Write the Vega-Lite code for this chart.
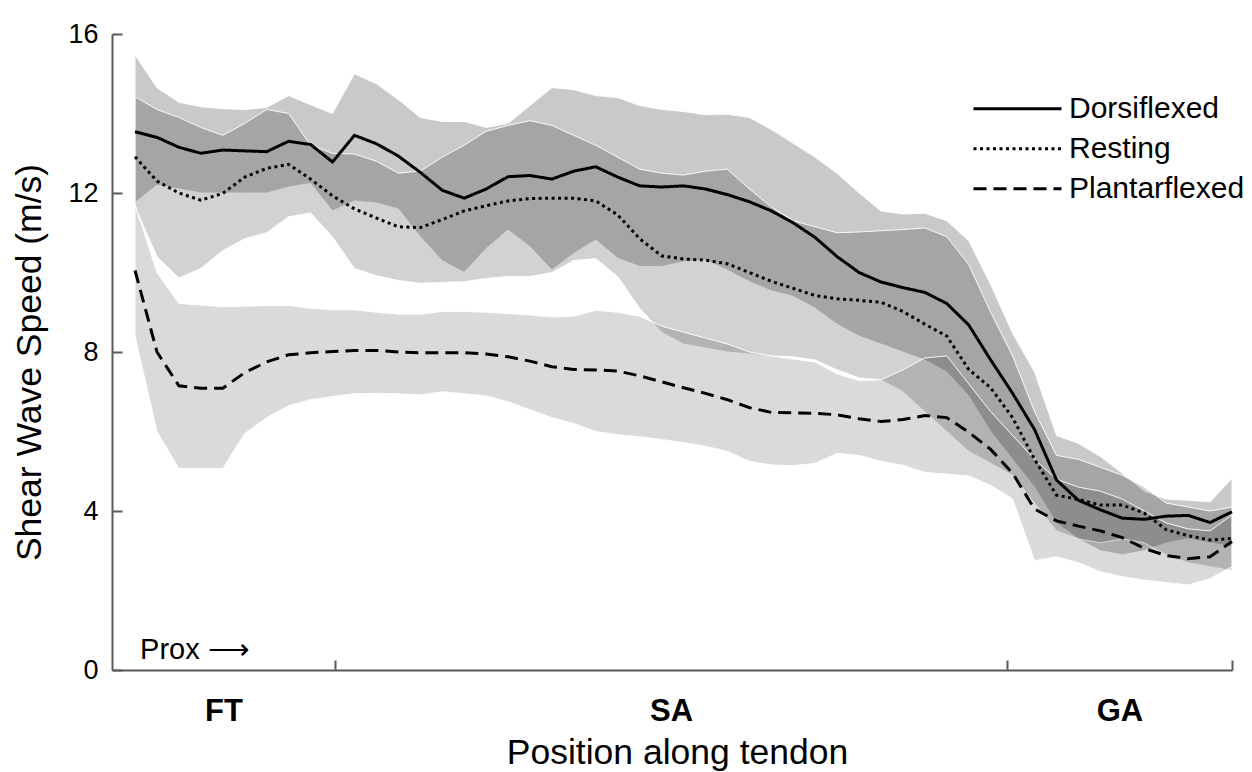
{
  "$schema": "https://vega.github.io/schema/vega-lite/v6.json",
  "width": 1120,
  "height": 636,
  "autosize": {"type": "none"},
  "padding": {"left": 112, "top": 34, "right": 20, "bottom": 102},
  "background": "white",
  "config": {
    "view": {"stroke": null},
    "font": "Liberation Sans",
    "axis": {"grid": false}
  },
  "datasets": {
    "speed": [
      {"pos": 0, "cond": "Dorsiflexed", "mean": 13.54, "lo": 11.76, "hi": 15.47},
      {"pos": 1, "cond": "Dorsiflexed", "mean": 13.4, "lo": 12.2, "hi": 14.65},
      {"pos": 2, "cond": "Dorsiflexed", "mean": 13.15, "lo": 12.1, "hi": 14.28},
      {"pos": 3, "cond": "Dorsiflexed", "mean": 13.0, "lo": 12.0, "hi": 14.17},
      {"pos": 4, "cond": "Dorsiflexed", "mean": 13.08, "lo": 12.0, "hi": 14.12},
      {"pos": 5, "cond": "Dorsiflexed", "mean": 13.06, "lo": 12.0, "hi": 14.1},
      {"pos": 6, "cond": "Dorsiflexed", "mean": 13.04, "lo": 12.0, "hi": 14.15},
      {"pos": 7, "cond": "Dorsiflexed", "mean": 13.3, "lo": 12.15, "hi": 14.45},
      {"pos": 8, "cond": "Dorsiflexed", "mean": 13.22, "lo": 12.24, "hi": 14.22},
      {"pos": 9, "cond": "Dorsiflexed", "mean": 12.78, "lo": 11.55, "hi": 14.0},
      {"pos": 10, "cond": "Dorsiflexed", "mean": 13.45, "lo": 11.8, "hi": 15.0},
      {"pos": 11, "cond": "Dorsiflexed", "mean": 13.24, "lo": 11.75, "hi": 14.75},
      {"pos": 12, "cond": "Dorsiflexed", "mean": 12.93, "lo": 11.6, "hi": 14.35},
      {"pos": 13, "cond": "Dorsiflexed", "mean": 12.52, "lo": 10.9, "hi": 13.9},
      {"pos": 14, "cond": "Dorsiflexed", "mean": 12.07, "lo": 10.3, "hi": 13.8},
      {"pos": 15, "cond": "Dorsiflexed", "mean": 11.87, "lo": 10.0, "hi": 13.8},
      {"pos": 16, "cond": "Dorsiflexed", "mean": 12.1, "lo": 10.6, "hi": 13.65},
      {"pos": 17, "cond": "Dorsiflexed", "mean": 12.41, "lo": 11.07, "hi": 13.75},
      {"pos": 18, "cond": "Dorsiflexed", "mean": 12.44, "lo": 10.65, "hi": 14.2},
      {"pos": 19, "cond": "Dorsiflexed", "mean": 12.35, "lo": 10.06, "hi": 14.65},
      {"pos": 20, "cond": "Dorsiflexed", "mean": 12.55, "lo": 10.48, "hi": 14.6},
      {"pos": 21, "cond": "Dorsiflexed", "mean": 12.66, "lo": 10.82, "hi": 14.45},
      {"pos": 22, "cond": "Dorsiflexed", "mean": 12.4, "lo": 10.36, "hi": 14.4},
      {"pos": 23, "cond": "Dorsiflexed", "mean": 12.18, "lo": 10.15, "hi": 14.2},
      {"pos": 24, "cond": "Dorsiflexed", "mean": 12.15, "lo": 10.15, "hi": 14.1},
      {"pos": 25, "cond": "Dorsiflexed", "mean": 12.18, "lo": 10.27, "hi": 14.05},
      {"pos": 26, "cond": "Dorsiflexed", "mean": 12.1, "lo": 10.31, "hi": 13.97},
      {"pos": 27, "cond": "Dorsiflexed", "mean": 11.96, "lo": 10.06, "hi": 13.98},
      {"pos": 28, "cond": "Dorsiflexed", "mean": 11.78, "lo": 9.77, "hi": 13.9},
      {"pos": 29, "cond": "Dorsiflexed", "mean": 11.55, "lo": 9.54, "hi": 13.6},
      {"pos": 30, "cond": "Dorsiflexed", "mean": 11.25, "lo": 9.4, "hi": 13.25},
      {"pos": 31, "cond": "Dorsiflexed", "mean": 10.88, "lo": 9.1, "hi": 12.9},
      {"pos": 32, "cond": "Dorsiflexed", "mean": 10.4, "lo": 8.7, "hi": 12.5},
      {"pos": 33, "cond": "Dorsiflexed", "mean": 10.0, "lo": 8.4, "hi": 12.0},
      {"pos": 34, "cond": "Dorsiflexed", "mean": 9.76, "lo": 8.2, "hi": 11.55},
      {"pos": 35, "cond": "Dorsiflexed", "mean": 9.62, "lo": 8.0, "hi": 11.47},
      {"pos": 36, "cond": "Dorsiflexed", "mean": 9.5, "lo": 7.8, "hi": 11.49},
      {"pos": 37, "cond": "Dorsiflexed", "mean": 9.22, "lo": 7.5, "hi": 11.3},
      {"pos": 38, "cond": "Dorsiflexed", "mean": 8.68, "lo": 6.9, "hi": 10.8},
      {"pos": 39, "cond": "Dorsiflexed", "mean": 7.8, "lo": 6.0, "hi": 9.7},
      {"pos": 40, "cond": "Dorsiflexed", "mean": 6.96, "lo": 5.3, "hi": 8.47},
      {"pos": 41, "cond": "Dorsiflexed", "mean": 6.05, "lo": 4.6, "hi": 7.5},
      {"pos": 42, "cond": "Dorsiflexed", "mean": 4.78, "lo": 3.7, "hi": 5.9},
      {"pos": 43, "cond": "Dorsiflexed", "mean": 4.27, "lo": 3.3, "hi": 5.7},
      {"pos": 44, "cond": "Dorsiflexed", "mean": 4.03, "lo": 3.0, "hi": 5.37},
      {"pos": 45, "cond": "Dorsiflexed", "mean": 3.82, "lo": 2.9, "hi": 4.95},
      {"pos": 46, "cond": "Dorsiflexed", "mean": 3.79, "lo": 3.0, "hi": 4.5},
      {"pos": 47, "cond": "Dorsiflexed", "mean": 3.87, "lo": 3.2, "hi": 4.3},
      {"pos": 48, "cond": "Dorsiflexed", "mean": 3.89, "lo": 3.3, "hi": 4.27},
      {"pos": 49, "cond": "Dorsiflexed", "mean": 3.71, "lo": 3.2, "hi": 4.23},
      {"pos": 50, "cond": "Dorsiflexed", "mean": 3.98, "lo": 3.1, "hi": 4.82},

      {"pos": 0, "cond": "Resting", "mean": 12.91, "lo": 11.66, "hi": 14.42},
      {"pos": 1, "cond": "Resting", "mean": 12.3, "lo": 10.4, "hi": 14.1},
      {"pos": 2, "cond": "Resting", "mean": 12.0, "lo": 9.86, "hi": 13.9},
      {"pos": 3, "cond": "Resting", "mean": 11.82, "lo": 10.1, "hi": 13.65},
      {"pos": 4, "cond": "Resting", "mean": 11.99, "lo": 10.55, "hi": 13.45},
      {"pos": 5, "cond": "Resting", "mean": 12.4, "lo": 10.85, "hi": 13.75},
      {"pos": 6, "cond": "Resting", "mean": 12.62, "lo": 11.0, "hi": 14.1},
      {"pos": 7, "cond": "Resting", "mean": 12.72, "lo": 11.4, "hi": 14.0},
      {"pos": 8, "cond": "Resting", "mean": 12.35, "lo": 11.5, "hi": 13.2},
      {"pos": 9, "cond": "Resting", "mean": 11.93, "lo": 10.9, "hi": 13.0},
      {"pos": 10, "cond": "Resting", "mean": 11.6, "lo": 10.1, "hi": 12.98},
      {"pos": 11, "cond": "Resting", "mean": 11.37, "lo": 9.92, "hi": 12.8},
      {"pos": 12, "cond": "Resting", "mean": 11.15, "lo": 9.8, "hi": 12.5},
      {"pos": 13, "cond": "Resting", "mean": 11.13, "lo": 9.73, "hi": 12.55},
      {"pos": 14, "cond": "Resting", "mean": 11.33, "lo": 9.75, "hi": 12.9},
      {"pos": 15, "cond": "Resting", "mean": 11.55, "lo": 9.77, "hi": 13.2},
      {"pos": 16, "cond": "Resting", "mean": 11.68, "lo": 9.85, "hi": 13.55},
      {"pos": 17, "cond": "Resting", "mean": 11.8, "lo": 9.9, "hi": 13.7},
      {"pos": 18, "cond": "Resting", "mean": 11.86, "lo": 9.9, "hi": 13.82},
      {"pos": 19, "cond": "Resting", "mean": 11.87, "lo": 10.0, "hi": 13.7},
      {"pos": 20, "cond": "Resting", "mean": 11.87, "lo": 10.3, "hi": 13.45},
      {"pos": 21, "cond": "Resting", "mean": 11.8, "lo": 10.35, "hi": 13.2},
      {"pos": 22, "cond": "Resting", "mean": 11.45, "lo": 9.9, "hi": 12.9},
      {"pos": 23, "cond": "Resting", "mean": 10.85, "lo": 9.1, "hi": 12.6},
      {"pos": 24, "cond": "Resting", "mean": 10.42, "lo": 8.5, "hi": 12.5},
      {"pos": 25, "cond": "Resting", "mean": 10.34, "lo": 8.2, "hi": 12.45},
      {"pos": 26, "cond": "Resting", "mean": 10.31, "lo": 8.1, "hi": 12.55},
      {"pos": 27, "cond": "Resting", "mean": 10.22, "lo": 8.0, "hi": 12.6},
      {"pos": 28, "cond": "Resting", "mean": 10.0, "lo": 7.95, "hi": 12.1},
      {"pos": 29, "cond": "Resting", "mean": 9.78, "lo": 7.9, "hi": 11.65},
      {"pos": 30, "cond": "Resting", "mean": 9.6, "lo": 7.88, "hi": 11.3},
      {"pos": 31, "cond": "Resting", "mean": 9.42, "lo": 7.8, "hi": 11.15},
      {"pos": 32, "cond": "Resting", "mean": 9.34, "lo": 7.55, "hi": 11.0},
      {"pos": 33, "cond": "Resting", "mean": 9.3, "lo": 7.35, "hi": 11.02},
      {"pos": 34, "cond": "Resting", "mean": 9.25, "lo": 7.3, "hi": 11.05},
      {"pos": 35, "cond": "Resting", "mean": 9.02, "lo": 7.0, "hi": 11.08},
      {"pos": 36, "cond": "Resting", "mean": 8.7, "lo": 6.5, "hi": 11.12},
      {"pos": 37, "cond": "Resting", "mean": 8.4, "lo": 6.0, "hi": 10.9},
      {"pos": 38, "cond": "Resting", "mean": 7.56, "lo": 5.5, "hi": 10.2},
      {"pos": 39, "cond": "Resting", "mean": 7.1, "lo": 5.2, "hi": 9.0},
      {"pos": 40, "cond": "Resting", "mean": 6.35, "lo": 4.9, "hi": 7.9},
      {"pos": 41, "cond": "Resting", "mean": 5.3, "lo": 4.2, "hi": 6.5},
      {"pos": 42, "cond": "Resting", "mean": 4.4, "lo": 3.5, "hi": 5.4},
      {"pos": 43, "cond": "Resting", "mean": 4.29, "lo": 3.3, "hi": 5.3},
      {"pos": 44, "cond": "Resting", "mean": 4.15, "lo": 3.2, "hi": 5.1},
      {"pos": 45, "cond": "Resting", "mean": 4.15, "lo": 3.3, "hi": 4.9},
      {"pos": 46, "cond": "Resting", "mean": 3.95, "lo": 3.2, "hi": 4.6},
      {"pos": 47, "cond": "Resting", "mean": 3.53, "lo": 2.9, "hi": 4.2},
      {"pos": 48, "cond": "Resting", "mean": 3.38, "lo": 2.7, "hi": 4.1},
      {"pos": 49, "cond": "Resting", "mean": 3.27, "lo": 2.6, "hi": 4.0},
      {"pos": 50, "cond": "Resting", "mean": 3.31, "lo": 2.5, "hi": 4.1},

      {"pos": 0, "cond": "Plantarflexed", "mean": 10.05, "lo": 8.4, "hi": 11.7},
      {"pos": 1, "cond": "Plantarflexed", "mean": 8.0, "lo": 6.0, "hi": 10.0},
      {"pos": 2, "cond": "Plantarflexed", "mean": 7.15, "lo": 5.07, "hi": 9.22},
      {"pos": 3, "cond": "Plantarflexed", "mean": 7.09, "lo": 5.07, "hi": 9.18},
      {"pos": 4, "cond": "Plantarflexed", "mean": 7.09, "lo": 5.07, "hi": 9.14},
      {"pos": 5, "cond": "Plantarflexed", "mean": 7.48, "lo": 5.95, "hi": 9.15},
      {"pos": 6, "cond": "Plantarflexed", "mean": 7.75, "lo": 6.35, "hi": 9.17},
      {"pos": 7, "cond": "Plantarflexed", "mean": 7.93, "lo": 6.65, "hi": 9.17},
      {"pos": 8, "cond": "Plantarflexed", "mean": 7.98, "lo": 6.8, "hi": 9.1},
      {"pos": 9, "cond": "Plantarflexed", "mean": 8.01, "lo": 6.88, "hi": 9.06},
      {"pos": 10, "cond": "Plantarflexed", "mean": 8.04, "lo": 6.95, "hi": 9.06},
      {"pos": 11, "cond": "Plantarflexed", "mean": 8.04, "lo": 6.96, "hi": 9.0},
      {"pos": 12, "cond": "Plantarflexed", "mean": 8.0, "lo": 6.95, "hi": 8.95},
      {"pos": 13, "cond": "Plantarflexed", "mean": 7.98, "lo": 6.92, "hi": 8.95},
      {"pos": 14, "cond": "Plantarflexed", "mean": 7.98, "lo": 7.0, "hi": 9.02},
      {"pos": 15, "cond": "Plantarflexed", "mean": 7.98, "lo": 6.95, "hi": 9.02},
      {"pos": 16, "cond": "Plantarflexed", "mean": 7.95, "lo": 6.9, "hi": 9.0},
      {"pos": 17, "cond": "Plantarflexed", "mean": 7.88, "lo": 6.75, "hi": 8.97},
      {"pos": 18, "cond": "Plantarflexed", "mean": 7.77, "lo": 6.55, "hi": 8.93},
      {"pos": 19, "cond": "Plantarflexed", "mean": 7.63, "lo": 6.35, "hi": 8.88},
      {"pos": 20, "cond": "Plantarflexed", "mean": 7.56, "lo": 6.2, "hi": 8.9},
      {"pos": 21, "cond": "Plantarflexed", "mean": 7.55, "lo": 6.0, "hi": 9.05},
      {"pos": 22, "cond": "Plantarflexed", "mean": 7.52, "lo": 5.92, "hi": 9.0},
      {"pos": 23, "cond": "Plantarflexed", "mean": 7.4, "lo": 5.87, "hi": 8.9},
      {"pos": 24, "cond": "Plantarflexed", "mean": 7.25, "lo": 5.8, "hi": 8.65},
      {"pos": 25, "cond": "Plantarflexed", "mean": 7.1, "lo": 5.72, "hi": 8.5},
      {"pos": 26, "cond": "Plantarflexed", "mean": 6.96, "lo": 5.63, "hi": 8.35},
      {"pos": 27, "cond": "Plantarflexed", "mean": 6.8, "lo": 5.5, "hi": 8.2},
      {"pos": 28, "cond": "Plantarflexed", "mean": 6.6, "lo": 5.25, "hi": 8.0},
      {"pos": 29, "cond": "Plantarflexed", "mean": 6.48, "lo": 5.16, "hi": 7.9},
      {"pos": 30, "cond": "Plantarflexed", "mean": 6.47, "lo": 5.14, "hi": 7.82},
      {"pos": 31, "cond": "Plantarflexed", "mean": 6.46, "lo": 5.2, "hi": 7.75},
      {"pos": 32, "cond": "Plantarflexed", "mean": 6.42, "lo": 5.45, "hi": 7.45},
      {"pos": 33, "cond": "Plantarflexed", "mean": 6.32, "lo": 5.4, "hi": 7.28},
      {"pos": 34, "cond": "Plantarflexed", "mean": 6.25, "lo": 5.25, "hi": 7.3},
      {"pos": 35, "cond": "Plantarflexed", "mean": 6.3, "lo": 5.15, "hi": 7.55},
      {"pos": 36, "cond": "Plantarflexed", "mean": 6.4, "lo": 4.97, "hi": 7.85},
      {"pos": 37, "cond": "Plantarflexed", "mean": 6.35, "lo": 4.93, "hi": 7.9},
      {"pos": 38, "cond": "Plantarflexed", "mean": 5.98, "lo": 4.88, "hi": 7.2},
      {"pos": 39, "cond": "Plantarflexed", "mean": 5.55, "lo": 4.65, "hi": 6.5},
      {"pos": 40, "cond": "Plantarflexed", "mean": 4.95, "lo": 4.3, "hi": 5.9},
      {"pos": 41, "cond": "Plantarflexed", "mean": 4.05, "lo": 2.75, "hi": 5.3},
      {"pos": 42, "cond": "Plantarflexed", "mean": 3.75, "lo": 2.85, "hi": 4.8},
      {"pos": 43, "cond": "Plantarflexed", "mean": 3.62, "lo": 2.7, "hi": 4.6},
      {"pos": 44, "cond": "Plantarflexed", "mean": 3.5, "lo": 2.47, "hi": 4.5},
      {"pos": 45, "cond": "Plantarflexed", "mean": 3.33, "lo": 2.35, "hi": 4.3},
      {"pos": 46, "cond": "Plantarflexed", "mean": 3.06, "lo": 2.26, "hi": 4.0},
      {"pos": 47, "cond": "Plantarflexed", "mean": 2.88, "lo": 2.2, "hi": 3.7},
      {"pos": 48, "cond": "Plantarflexed", "mean": 2.8, "lo": 2.14, "hi": 3.55},
      {"pos": 49, "cond": "Plantarflexed", "mean": 2.85, "lo": 2.3, "hi": 3.5},
      {"pos": 50, "cond": "Plantarflexed", "mean": 3.23, "lo": 2.6, "hi": 3.9}
    ],
    "note": [
      {"label": "Prox ⟶"}
    ]
  },
  "layer": [
    {
      "data": {"name": "speed"},
      "mark": {"type": "area", "fill": "black", "stroke": "white", "strokeWidth": 1, "strokeOpacity": 0.9},
      "encoding": {
        "x": {
          "field": "pos",
          "type": "quantitative",
          "scale": {"domain": [-1.05, 50], "nice": false, "zero": false},
          "axis": {
            "values": [4.03, 9.12, 24.43, 39.74, 44.87, 50],
            "labelExpr": "datum.value == 4.03 ? 'FT' : datum.value == 24.43 ? 'SA' : datum.value == 44.87 ? 'GA' : ''",
            "tickOpacity": {"condition": {"test": "datum.value == 9.12 || datum.value == 39.74 || datum.value == 50", "value": 1}, "value": 0},
            "tickSize": -10,
            "tickWidth": 2,
            "tickColor": "#5a5a5a",
            "domainColor": "#5a5a5a",
            "domainWidth": 2,
            "labelPadding": 36,
            "labelFontSize": 31,
            "labelFontWeight": "bold",
            "labelColor": "black",
            "labelFlush": false,
            "labelOverlap": false,
            "labelBound": false,
            "title": "Position along tendon",
            "titleFontSize": 35.5,
            "titleFontWeight": "normal",
            "titleColor": "black",
            "titleBaseline": "alphabetic",
            "titleX": 565,
            "titleY": 93
          }
        },
        "y": {
          "field": "lo",
          "type": "quantitative",
          "scale": {"domain": [0, 16], "nice": false},
          "axis": {
            "values": [0, 4, 8, 12, 16],
            "tickSize": -10,
            "tickWidth": 2,
            "tickColor": "#5a5a5a",
            "domainColor": "#5a5a5a",
            "domainWidth": 2,
            "labelPadding": 24,
            "labelFontSize": 27,
            "labelColor": "black",
            "labelFlush": false,
            "title": "Shear Wave Speed (m/s)",
            "titleFontSize": 35.5,
            "titleFontWeight": "normal",
            "titleColor": "black",
            "titleBaseline": "alphabetic",
            "titleX": -72,
            "titleY": 328
          }
        },
        "y2": {"field": "hi"},
        "fillOpacity": {
          "field": "cond",
          "type": "nominal",
          "scale": {"domain": ["Dorsiflexed", "Resting", "Plantarflexed"], "range": [0.21, 0.145, 0.063]},
          "legend": null
        }
      }
    },
    {
      "data": {"name": "speed"},
      "mark": {"type": "line", "color": "black", "strokeWidth": 3},
      "encoding": {
        "x": {"field": "pos", "type": "quantitative"},
        "y": {"field": "mean", "type": "quantitative"},
        "strokeDash": {
          "field": "cond",
          "type": "nominal",
          "scale": {"domain": ["Dorsiflexed", "Resting", "Plantarflexed"], "range": [[1, 0], [3, 3.5], [13, 7]]},
          "legend": {
            "title": null,
            "orient": "none",
            "legendX": 860,
            "legendY": 56,
            "symbolType": "stroke",
            "symbolSize": 7744,
            "symbolStrokeWidth": 3,
            "symbolStrokeColor": "black",
            "labelFontSize": 30,
            "labelColor": "black",
            "labelOffset": 6,
            "labelLimit": 0,
            "clipHeight": 37.5,
            "rowPadding": 2
          }
        }
      }
    },
    {
      "data": {"name": "note"},
      "mark": {"type": "text", "align": "left", "baseline": "alphabetic", "fontSize": 29, "color": "black"},
      "encoding": {
        "x": {"datum": 0.23},
        "y": {"datum": 0.28},
        "text": {"field": "label"}
      }
    }
  ]
}
